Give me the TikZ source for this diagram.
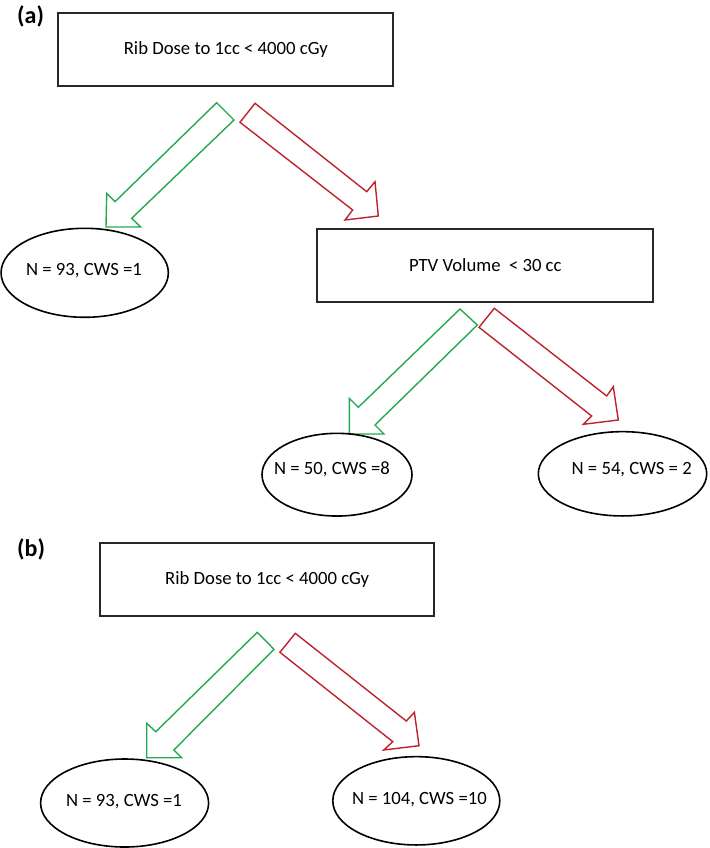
\documentclass[tikz,border=0pt]{standalone}
\usepackage{fontspec}
\setmainfont{Carlito}
\usetikzlibrary{shapes.geometric}
\definecolor{agreen}{RGB}{35,170,80}
\definecolor{ared}{RGB}{190,35,45}
\definecolor{edgegray}{RGB}{40,40,40}
\begin{document}
\begin{tikzpicture}[x=1pt,y=-1pt,
  every node/.style={font=\fontsize{18.7}{22}\selectfont},
  decision/.style={draw=edgegray, line width=1.8pt, rectangle, inner sep=0pt},
  leaf/.style={draw=black, line width=1.6pt, ellipse, inner sep=0pt},
  leaftext/.style={anchor=base, inner sep=0pt},
  yesarrow/.style={draw=agreen, line width=1.4pt, line join=miter},
  noarrow/.style={draw=ared, line width=1.4pt, line join=miter},
  tag/.style={font=\fontsize{24}{28}\selectfont\bfseries, anchor=base west, inner sep=0pt}]
\useasboundingbox (0,0) rectangle (709,848);

% ---------- (a) ----------
\node[tag] (taga) at (17,24) {(a)};
\node[decision, minimum width=335, minimum height=72.4] (ra) at (225.8,49.5) {Rib Dose to 1cc < 4000 cGy};

\draw[yesarrow] (216.7,102.7) -- (234,120) -- (131.7,218.3) -- (140.7,227) -- (106,227) -- (106.7,193.3) -- (115,201.7) -- cycle;
\draw[noarrow] (255,103.3) -- (240,122.3) -- (352.7,210) -- (345,220) -- (378.3,216) -- (375,181.7) -- (366.7,191.7) -- cycle;

\node[leaf, minimum width=167.3, minimum height=89] (ea1) at (84.7,272.8) {};
\node[leaftext] (ta1) at (84,275) {N = 93, CWS =1};

\node[decision, minimum width=336, minimum height=72.4] (pv) at (485.3,265.5) {PTV Volume\ \ < 30 cc\hspace{14pt}};

\draw[yesarrow] (460,309) -- (477.3,325) -- (375,425) -- (384,434) -- (349.3,434) -- (349.3,398.3) -- (358.3,407.3) -- cycle;
\draw[noarrow] (494.3,308.3) -- (479,327.3) -- (591.7,416) -- (583.3,424.3) -- (618.3,420) -- (613.3,386.7) -- (606.7,396) -- cycle;

\node[leaf, minimum width=150, minimum height=82.7] (ea2) at (337,474.7) {};
\node[leaftext] (ta2) at (332,474) {N = 50, CWS =8};
\node[leaf, minimum width=168.4, minimum height=84.3] (ea3) at (622.5,473.8) {};
\node[leaftext] (ta3) at (631.7,474) {N = 54, CWS = 2};

% ---------- (b) ----------
\node[tag] (tagb) at (17,556.7) {(b)};
\node[decision, minimum width=334.3, minimum height=72.7] (rb) at (267.2,579.3) {Rib Dose to 1cc < 4000 cGy};

\draw[yesarrow] (257.3,632.3) -- (274,649.3) -- (173.8,750) -- (181.5,757.7) -- (146.7,757.7) -- (146.7,723.3) -- (155.8,731.7) -- cycle;
\draw[noarrow] (295.3,633.3) -- (279.9,652.3) -- (392.8,741.7) -- (383.7,750) -- (419,745.7) -- (414.4,712.3) -- (406.3,721) -- cycle;

\node[leaf, minimum width=168, minimum height=88] (eb1) at (124.6,803) {};
\node[leaftext] (tb1) at (124,806.7) {N = 93, CWS =1};
\node[leaf, minimum width=167, minimum height=88.3] (eb2) at (416.3,800.8) {};
\node[leaftext] (tb2) at (419.4,804.3) {N = 104, CWS =10};
\end{tikzpicture}
\end{document}
